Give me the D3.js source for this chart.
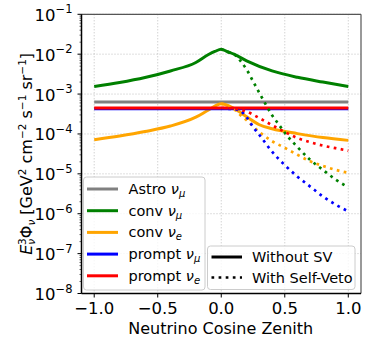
<!DOCTYPE html>
<html>
<head>
  <meta charset="utf-8">
  <title>Self-veto fluxes</title>
<style type="text/css">
body {
  margin: 0;
  background: #fff;
}

svg text {
  font-family: "DejaVu Sans", "Noto Sans", sans-serif;
}

.grid line {
  stroke: #b0b0b0;
  stroke-width: 0.8px;
  stroke-dasharray: 1,2;
}

.tick-label {
  font-size: 16.5px;
  fill: #000;
}

.axis-label {
  font-size: 16px;
  fill: #000;
}

.legend text {
  font-size: 14.5px;
  fill: #000;
}
</style>
</head>
<body>
<script src="https://cdnjs.cloudflare.com/ajax/libs/d3/7.8.5/d3.min.js"></script>
<script>
// cos(zenith) sample points and fluxes (GeV^2 cm^-2 s^-1 sr^-1)
var convMuX = [-1, -0.8, -0.6, -0.4, -0.2, -0.1, -0.05, 0, 0.05, 0.1, 0.2, 0.4, 0.6, 0.8, 1.0];
var convMu  = [1.55e-3, 1.95e-3, 2.6e-3, 3.8e-3, 6.2e-3, 9.8e-3, 1.17e-2, 1.33e-2, 1.15e-2, 1.0e-2, 6.8e-3, 3.8e-3, 2.63e-3, 2.0e-3, 1.55e-3];

var convEX = [-1, -0.8, -0.6, -0.4, -0.2, -0.1, 0, 0.1, 0.2, 0.3, 0.4, 0.6, 0.8, 1.0];
var convE  = [7.2e-5, 8.9e-5, 1.15e-4, 1.58e-4, 2.63e-4, 3.98e-4, 5.75e-4, 4.37e-4, 2.69e-4, 1.7e-4, 1.35e-4, 1.02e-4, 8.1e-5, 6.9e-5];

var flatX = [-1, 0, 1];
var astroMu  = [6.3e-4, 6.3e-4, 6.3e-4];
var promptMu = [4.3e-4, 4.3e-4, 4.3e-4];
var promptE  = [4.47e-4, 4.47e-4, 4.47e-4];

// with self-veto (downgoing only)
var svMuX = [0, 0.05, 0.1, 0.15, 0.2, 0.25, 0.3, 0.35, 0.4, 0.45, 0.5, 0.6, 0.7, 0.8, 0.9, 1.0];
var svConvMu = [1.33e-2, 1.15e-2, 1.0e-2, 6.9e-3, 4.1e-3, 2.1e-3, 1.07e-3, 5.5e-4, 2.95e-4, 1.78e-4, 1.07e-4, 4.7e-5, 2.24e-5, 1.26e-5, 7.2e-6, 4.6e-6];

var svEX = [0, 0.1, 0.15, 0.2, 0.3, 0.4, 0.5, 0.6, 0.7, 0.8, 0.9, 1.0];
var svConvE = [5.75e-4, 4.2e-4, 3.0e-4, 2.2e-4, 1.12e-4, 6.6e-5, 4.5e-5, 3.0e-5, 2.07e-5, 1.58e-5, 1.26e-5, 1.06e-5];
var svPromptE = [4.47e-4, 4.37e-4, 4.07e-4, 3.63e-4, 2.5e-4, 1.66e-4, 1.12e-4, 7.9e-5, 6.2e-5, 5.1e-5, 4.4e-5, 3.8e-5];

var svPMuX = [0, 0.1, 0.15, 0.2, 0.25, 0.3, 0.4, 0.5, 0.6, 0.7, 0.8, 0.9, 1.0];
var svPromptMu = [4.3e-4, 4.17e-4, 3.8e-4, 2.63e-4, 1.51e-4, 9.5e-5, 3.6e-5, 1.66e-5, 8.5e-6, 4.8e-6, 2.7e-6, 1.7e-6, 1.15e-6];

var xTicks = [-1.0, -0.5, 0.0, 0.5, 1.0];
var yExps = [-8, -7, -6, -5, -4, -3, -2, -1];

var legendNames = ["Astro", "conv", "conv", "prompt", "prompt"];
var legendSubs = ["\u03bc", "\u03bc", "e", "\u03bc", "e"];
var legendColors = ["grey", "green", "orange", "blue", "red"];
var styleNames = ["Without SV", "With Self-Veto"];

var W = 374, H = 347;
var pLeft = 81.5, pRight = 361, pTop = 14.3, pBottom = 293.5;

var svg = d3.select("body").append("svg")
  .attr("width", W)
  .attr("height", H);

var x = d3.scaleLinear().domain([-1.1, 1.1]).range([pLeft, pRight]);
var y = d3.scaleLog().domain([1e-8, 1e-1]).range([pBottom, pTop]);

svg.append("clipPath").attr("id", "clip")
  .append("rect")
  .attr("x", pLeft).attr("y", pTop)
  .attr("width", pRight - pLeft).attr("height", pBottom - pTop);

// grid
var grid = svg.append("g").attr("class", "grid");
grid.selectAll(".gx").data(xTicks).enter().append("line")
  .attr("x1", function(d) { return x(d); })
  .attr("x2", function(d) { return x(d); })
  .attr("y1", pTop).attr("y2", pBottom);
grid.selectAll(".gy").data(yExps).enter().append("line")
  .attr("x1", pLeft).attr("x2", pRight)
  .attr("y1", function(d) { return y(Math.pow(10, d)); })
  .attr("y2", function(d) { return y(Math.pow(10, d)); });

// curves
var line = d3.line()
  .x(function(d) { return x(d[0]); })
  .y(function(d) { return y(d[1]); })
  .curve(d3.curveMonotoneX);

function pairs(xs, ys) {
  return xs.map(function(v, i) { return [v, ys[i]]; });
}

var plot = svg.append("g").attr("clip-path", "url(#clip)");

var solid = [
  [flatX, astroMu, "grey"],
  [convMuX, convMu, "green"],
  [convEX, convE, "orange"],
  [flatX, promptMu, "blue"],
  [flatX, promptE, "red"]
];
var dotted = [
  [svMuX, svConvMu, "green"],
  [svEX, svConvE, "orange"],
  [svPMuX, svPromptMu, "blue"],
  [svEX, svPromptE, "red"]
];

solid.forEach(function(s) {
  plot.append("path")
    .attr("d", line(pairs(s[0], s[1])))
    .attr("fill", "none")
    .attr("stroke", s[2])
    .attr("stroke-width", 3);
});
dotted.forEach(function(s) {
  plot.append("path")
    .attr("d", line(pairs(s[0], s[1])))
    .attr("fill", "none")
    .attr("stroke", s[2])
    .attr("stroke-width", 2.7)
    .attr("stroke-dasharray", "2.7,4.4");
});

// frame
svg.append("line").attr("x1", pLeft).attr("x2", pRight).attr("y1", pTop).attr("y2", pTop)
  .attr("stroke", "#555").attr("stroke-width", 1.2);
svg.append("line").attr("x1", pRight).attr("x2", pRight).attr("y1", pTop).attr("y2", pBottom)
  .attr("stroke", "#555").attr("stroke-width", 1.2);
svg.append("line").attr("x1", pLeft).attr("x2", pLeft).attr("y1", pTop).attr("y2", pBottom)
  .attr("stroke", "#000").attr("stroke-width", 1.5);
svg.append("line").attr("x1", pLeft).attr("x2", pRight).attr("y1", pBottom).attr("y2", pBottom)
  .attr("stroke", "#000").attr("stroke-width", 1.5);

// x ticks
svg.selectAll(".xt").data(xTicks).enter().append("line")
  .attr("x1", function(d) { return x(d); })
  .attr("x2", function(d) { return x(d); })
  .attr("y1", pBottom).attr("y2", pBottom + 4)
  .attr("stroke", "#000").attr("stroke-width", 1);
svg.selectAll(".xl").data(xTicks).enter().append("text")
  .attr("class", "tick-label")
  .attr("x", function(d) { return x(d); })
  .attr("y", pBottom + 20)
  .attr("text-anchor", "middle")
  .text(function(d) { return d3.format(".1f")(d).replace("-", "\u2212"); });

// y ticks, major and minor
var minor = [];
yExps.slice(0, -1).forEach(function(e) {
  for (var k = 2; k < 10; k++) minor.push(k * Math.pow(10, e));
});
svg.selectAll(".ym").data(minor).enter().append("line")
  .attr("x1", pLeft - 2).attr("x2", pLeft)
  .attr("y1", function(d) { return y(d); })
  .attr("y2", function(d) { return y(d); })
  .attr("stroke", "#000").attr("stroke-width", 0.6);
svg.selectAll(".yt").data(yExps).enter().append("line")
  .attr("x1", pLeft - 4).attr("x2", pLeft)
  .attr("y1", function(d) { return y(Math.pow(10, d)); })
  .attr("y2", function(d) { return y(Math.pow(10, d)); })
  .attr("stroke", "#000").attr("stroke-width", 1);

var yl = svg.selectAll(".yl").data(yExps).enter().append("text")
  .attr("class", "tick-label")
  .attr("x", pLeft - 9)
  .attr("y", function(d) { return y(Math.pow(10, d)) + 6.5; })
  .attr("text-anchor", "end");
yl.append("tspan").text("10");
yl.append("tspan")
  .attr("dy", -7.5)
  .attr("font-size", "11.5px")
  .text(function(d) { return "\u2212" + (-d); });

// axis labels
svg.append("text")
  .attr("class", "axis-label")
  .attr("x", (pLeft + pRight) / 2 - 0.5)
  .attr("y", 333.5)
  .attr("text-anchor", "middle")
  .text("Neutrino Cosine Zenith");

var ylab = svg.append("text")
  .attr("class", "axis-label")
  .attr("font-size", "15px")
  .attr("transform", "translate(32," + ((pTop + pBottom) / 2) + ") rotate(-90)")
  .attr("text-anchor", "middle");
ylab.append("tspan").attr("font-style", "italic").text("E");
ylab.append("tspan").attr("font-style", "italic").attr("font-size", "10.5px").attr("dy", 3).text("\u03bd");
ylab.append("tspan").attr("font-size", "10.5px").attr("dx", -6).attr("dy", -9.5).text("3");
ylab.append("tspan").attr("dy", 6.5).text("\u03a6");
ylab.append("tspan").attr("font-style", "italic").attr("font-size", "10.5px").attr("dy", 3).text("\u03bd");
ylab.append("tspan").attr("dy", -3).text(" [GeV");
ylab.append("tspan").attr("font-size", "10.5px").attr("dy", -6).text("2");
ylab.append("tspan").attr("dy", 6).text(" cm");
ylab.append("tspan").attr("font-size", "10.5px").attr("dy", -6).text("\u22122");
ylab.append("tspan").attr("dy", 6).text(" s");
ylab.append("tspan").attr("font-size", "10.5px").attr("dy", -6).text("\u22121");
ylab.append("tspan").attr("dy", 6).text(" sr");
ylab.append("tspan").attr("font-size", "10.5px").attr("dy", -6).text("\u22121");
ylab.append("tspan").attr("dy", 6).text("]");

// flux legend
var leg1 = svg.append("g").attr("class", "legend");
leg1.append("rect")
  .attr("x", 83.5).attr("y", 177).attr("width", 121.5).attr("height", 113)
  .attr("rx", 3)
  .attr("fill", "rgba(255,255,255,0.8)")
  .attr("stroke", "#ccc").attr("stroke-width", 1);
var items = leg1.selectAll(".item").data(legendNames).enter().append("g")
  .attr("transform", function(d, i) { return "translate(0," + (189 + i * 21.7) + ")"; });
items.append("line")
  .attr("x1", 87).attr("x2", 118)
  .attr("stroke", function(d, i) { return legendColors[i]; })
  .attr("stroke-width", 3);
var lt = items.append("text").attr("x", 128.5).attr("y", 5);
lt.append("tspan").text(function(d) { return d + " "; });
lt.append("tspan").attr("font-style", "italic").text("\u03bd");
lt.append("tspan").attr("font-style", "italic").attr("font-size", "10px").attr("dy", 3)
  .text(function(d, i) { return legendSubs[i]; });

// line style legend
var leg2 = svg.append("g").attr("class", "legend");
leg2.append("rect")
  .attr("x", 207.5).attr("y", 246).attr("width", 147.5).attr("height", 43.5)
  .attr("rx", 3)
  .attr("fill", "rgba(255,255,255,0.8)")
  .attr("stroke", "#ccc").attr("stroke-width", 1);
var sitems = leg2.selectAll(".sitem").data(styleNames).enter().append("g")
  .attr("transform", function(d, i) { return "translate(0," + (257 + i * 20.5) + ")"; });
sitems.append("line")
  .attr("x1", 211.5).attr("x2", 242)
  .attr("stroke", "#000")
  .attr("stroke-width", function(d, i) { return i ? 2.7 : 3; })
  .attr("stroke-dasharray", function(d, i) { return i ? "2.7,4.4" : null; });
sitems.append("text").attr("x", 252).attr("y", 5).text(function(d) { return d; });
</script>
</body>
</html>
